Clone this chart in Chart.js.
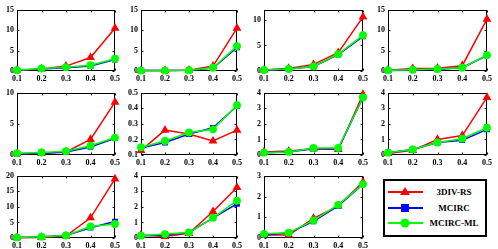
<!DOCTYPE html>
<html><head><meta charset="utf-8">
<script src="https://cdn.jsdelivr.net/npm/chart.js@4"></script>
<style>
body{margin:0;background:#fff;width:498px;height:249px;overflow:hidden;position:relative;font-family:'Liberation Serif',serif}
canvas{position:absolute}
#legend{position:absolute;left:383px;top:179px;width:100px;height:54px;border:2px solid #000;background:#fff}
#legend svg{position:absolute;left:0;top:0}
#legend span{position:absolute;width:70px;text-align:center;font:bold 9px 'Liberation Serif',serif;color:#000;line-height:10px}
</style></head><body>
<div id="legend"></div>
<script>
// ---- data ----
const xLabels = ['0.1','0.2','0.3','0.4','0.5'];
const seriesNames = ['3DIV-RS','MCIRC','MCIRC-ML'];

const p1RS=[0.2,0.5,1.2,3.3,10.5], p1MC=[0.2,0.5,0.8,1.2,2.8], p1ML=[0.2,0.6,0.9,1.4,3.0];
const p2RS=[0.1,0.15,0.2,1.2,10.5], p2MC=[0.1,0.1,0.2,0.7,5.8], p2ML=[0.1,0.1,0.2,0.8,6.1];
const p3RS=[0.2,0.5,1.3,3.6,10.6], p3MC=[0.2,0.4,0.9,3.2,6.8], p3ML=[0.2,0.4,0.9,3.3,7.0];
const p4RS=[0.2,0.6,0.7,1.3,12.7], p4MC=[0.1,0.2,0.4,0.8,3.8], p4ML=[0.2,0.3,0.5,0.8,3.9];
const p5RS=[0.2,0.3,0.5,2.5,8.5], p5MC=[0.2,0.3,0.5,1.3,2.7], p5ML=[0.3,0.4,0.6,1.5,2.8];
const p6RS=[0.13,0.26,0.235,0.19,0.26], p6MC=[0.145,0.18,0.235,0.275,0.415], p6ML=[0.15,0.19,0.245,0.265,0.42];
const p7RS=[0.2,0.25,0.4,0.35,3.9], p7MC=[0.15,0.2,0.4,0.4,3.7], p7ML=[0.15,0.2,0.45,0.45,3.7];
const p8RS=[0.1,0.3,1.0,1.25,3.7], p8MC=[0.15,0.35,0.8,0.95,1.65], p8ML=[0.15,0.35,0.8,1.05,1.75];
const p9RS=[0.1,0.2,0.6,6.5,19], p9MC=[0.2,0.4,0.8,3.3,5.3], p9ML=[0.2,0.4,0.8,3.7,4.5];
const p10RS=[0.2,0.1,0.3,1.7,3.25], p10MC=[0.15,0.2,0.35,1.3,2.2], p10ML=[0.15,0.25,0.35,1.3,2.4];
const p11RS=[0.15,0.15,0.95,1.55,2.7], p11MC=[0.15,0.25,0.8,1.55,2.6], p11ML=[0.2,0.25,0.85,1.6,2.6];

const yMin=[0,0,0,0, 0,0.1,0,0, 0,0,0];
const yMax=[15,15,12,15, 10,0.5,4,4, 20,4,3];
const yTicks=[[0,5,10,15],[0,5,10,15],[0,5,10],[0,5,10,15],
  [0,5,10],[0.1,0.2,0.3,0.4,0.5],[0,1,2,3,4],[0,1,2,3,4],
  [0,5,10,15,20],[0,1,2,3,4],[0,1,2,3]];

const RS=[p1RS,p2RS,p3RS,p4RS,p5RS,p6RS,p7RS,p8RS,p9RS,p10RS,p11RS];
const MC=[p1MC,p2MC,p3MC,p4MC,p5MC,p6MC,p7MC,p8MC,p9MC,p10MC,p11MC];
const ML=[p1ML,p2ML,p3ML,p4ML,p5ML,p6ML,p7ML,p8ML,p9ML,p10ML,p11ML];

// ---- layout ----
const colL=[17,141,264,388], colR=[115,237,363,487];
const rowT=[7,90,173], rowB=[71,155,238];
const font={family:"'Liberation Serif', serif", size:8, weight:'bold'};

const frame={id:'frame',
  beforeDatasetsDraw(chart){
    const {ctx, chartArea:a, scales}=chart;
    const l=Math.round(a.left)+0.5, t=Math.round(a.top)+0.5, r=Math.round(a.right)-0.5, b=Math.round(a.bottom)-0.5;
    ctx.save();
    ctx.strokeStyle='#000'; ctx.lineWidth=1;
    ctx.strokeRect(l,t,r-l,b-t);
    ctx.beginPath();
    scales.x.ticks.forEach((tk,k)=>{const px=Math.round(scales.x.getPixelForTick(k))+0.5;
      ctx.moveTo(px,b);ctx.lineTo(px,b-2);ctx.moveTo(px,t);ctx.lineTo(px,t+2);});
    scales.y.ticks.forEach(tk=>{const py=Math.round(scales.y.getPixelForValue(tk.value))+0.5;
      ctx.moveTo(l,py);ctx.lineTo(l+2,py);ctx.moveTo(r,py);ctx.lineTo(r-2,py);});
    ctx.stroke();
    ctx.restore();
  }};

function makePanel(i){
  const c=i%4, r=Math.floor(i/4);
  const L=colL[c], R=colR[c], T=rowT[r], B=rowB[r];
  const padL=22,padT=5,padR=8,padB=12;
  const cv=document.createElement('canvas');
  cv.width=R-L+padL+padR; cv.height=B-T+padT+padB;
  cv.style.left=(L-padL)+'px'; cv.style.top=(T-padT)+'px';
  document.body.appendChild(cv);
  const dec = yMax[i] < 1 ? 1 : 0;
  new Chart(cv,{type:'line',
    data:{labels:xLabels,datasets:[
      {label:seriesNames[0],data:RS[i],borderColor:'#ff0000',backgroundColor:'#ff0000',pointStyle:'triangle',pointRadius:3.6,borderWidth:1.5,order:3,clip:false},
      {label:seriesNames[1],data:MC[i],borderColor:'#0000ff',backgroundColor:'#0000ff',pointStyle:'rect',pointRadius:3,borderWidth:1.5,order:2,clip:false},
      {label:seriesNames[2],data:ML[i],borderColor:'#00ff00',backgroundColor:'#00ff00',pointStyle:'circle',pointRadius:3.2,borderWidth:1.5,order:1,clip:false}
    ]},
    options:{responsive:false,animation:false,events:[],
      plugins:{legend:{display:false},tooltip:{enabled:false}},
      layout:{padding:{top:padT,right:padR,left:0,bottom:0}},
      scales:{
        x:{type:'category',offset:false,grid:{display:false,drawTicks:false},border:{display:false},
           ticks:{font,color:'#000',padding:3,maxRotation:0,autoSkip:false},
           afterFit(s){s.height=padB;}},
        y:{type:'linear',min:yMin[i],max:yMax[i],grid:{display:false,drawTicks:false},border:{display:false},
           ticks:{font,color:'#000',padding:3,callback:v=>Number(v).toFixed(dec)},
           afterBuildTicks(s){s.ticks=yTicks[i].map(v=>({value:v}));},
           afterFit(s){s.width=padL;}}
      }},
    plugins:[frame]});
}
for(let i=0;i<11;i++) makePanel(i);

// legend
const lg=document.getElementById('legend');
const rowsY=[11,27,42];
let svg='<svg width="100" height="54" xmlns="http://www.w3.org/2000/svg">';
const cols=['#ff0000','#0000ff','#00ff00'];
rowsY.forEach((y,k)=>{
  svg+=`<line x1="3" y1="${y}" x2="38" y2="${y}" stroke="${cols[k]}" stroke-width="2"/>`;
  if(k===0) svg+=`<polygon points="20,${y-5} 25,${y+3} 15,${y+3}" fill="${cols[k]}"/>`;
  if(k===1) svg+=`<rect x="16" y="${y-4}" width="8" height="8" fill="${cols[k]}"/>`;
  if(k===2) svg+=`<circle cx="20" cy="${y}" r="4.5" fill="${cols[k]}"/>`;
});
svg+='</svg>';
lg.innerHTML=svg+seriesNames.map((n,k)=>`<span style="left:34px;top:${rowsY[k]-5}px">${n}</span>`).join('');
</script>
</body></html>
